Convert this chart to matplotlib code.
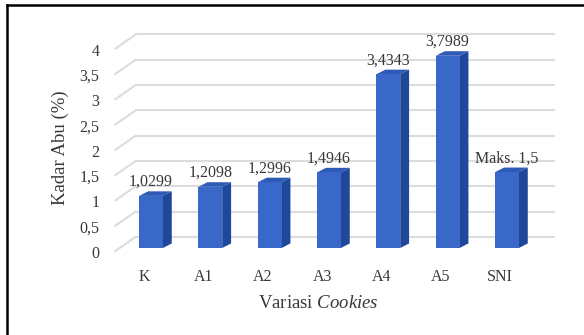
import matplotlib
matplotlib.use("Agg")
import matplotlib.pyplot as plt
from matplotlib.patches import Polygon, Rectangle
from matplotlib.lines import Line2D

# ===== DATA =====

categories = ["K", "A1", "A2", "A3", "A4", "A5", "SNI"]
kadar_abu = [1.0299, 1.2098, 1.2996, 1.4946, 3.4343, 3.7989, 1.5]
value_labels = ["1,0299", "1,2098", "1,2996", "1,4946", "3,4343", "3,7989", "Maks. 1,5"]
y_ticks = [0, 0.5, 1, 1.5, 2, 2.5, 3, 3.5, 4]
y_tick_labels = ["0", "0,5", "1", "1,5", "2", "2,5", "3", "3,5", "4"]

# ===== STYLE =====

FRONT = "#3a68c8"
SIDE = "#20489a"
TOP = "#2d5ab4"
GRID = "#dcdcdc"
TEXT = "#383838"

HALF_W = 0.2          # half bar width, category units
BAR_DX, BAR_DY = 0.15, 0.09     # bar depth
WALL_DX, WALL_DY = 0.34, -0.22  # back wall offset from the front plane
X_MIN, X_MAX = -0.6, 6.45

plt.rcParams["font.family"] = ["Liberation Serif", "DejaVu Serif"]
plt.rcParams["mathtext.fontset"] = "custom"
plt.rcParams["mathtext.rm"] = "Liberation Serif"
plt.rcParams["mathtext.it"] = "Liberation Serif:italic"

W, H = 584, 335
fig = plt.figure(figsize=(W / 100, H / 100), dpi=100)
fig.patch.set_facecolor("white")

# front plane of the columns
ax = fig.add_axes([115.4 / W, (H - 248) / H, (533.7 - 115.4) / W, 202.4 / H])
ax.set_xlim(X_MIN, X_MAX)
ax.set_ylim(0, 4)
ax.axis("off")

# back wall gridlines + side wall diagonals
for v in y_ticks:
    ax.plot([X_MIN + WALL_DX, X_MAX + WALL_DX], [v - WALL_DY, v - WALL_DY],
            color=GRID, lw=1.5, clip_on=False, zorder=1)
    ax.plot([X_MIN, X_MIN + WALL_DX], [v - 0.06, v - WALL_DY],
            color=GRID, lw=1.5, clip_on=False, zorder=1)

for lab, v in zip(y_tick_labels, y_ticks):
    ax.annotate(lab, (X_MIN, v), xytext=(-11.5, -4.3), textcoords="offset points",
                ha="right", va="center", fontsize=11.5, color=TEXT,
                annotation_clip=False)

# columns: side, top, front
for i, v in enumerate(kadar_abu):
    l, r = i - HALF_W, i + HALF_W
    side = Polygon([(r, 0), (r, v), (r + BAR_DX, v + BAR_DY), (r + BAR_DX, BAR_DY)],
                   closed=True, facecolor=SIDE, edgecolor="none", zorder=3, clip_on=False)
    top = Polygon([(l, v), (r, v), (r + BAR_DX, v + BAR_DY), (l + BAR_DX, v + BAR_DY)],
                  closed=True, facecolor=TOP, edgecolor="none", zorder=3, clip_on=False)
    front = Rectangle((l, 0), 2 * HALF_W, v, facecolor=FRONT, edgecolor="none",
                      zorder=4, clip_on=False)
    ax.add_patch(side)
    ax.add_patch(top)
    ax.add_patch(front)
    ax.annotate(value_labels[i], (i, v), xytext=(0, 10), textcoords="offset points",
                ha="center", va="center", fontsize=11.5, color=TEXT,
                annotation_clip=False, zorder=5)
    ax.annotate(categories[i], (i, 0), xytext=(-5, -21), textcoords="offset points",
                ha="center", va="center", fontsize=11.5, color=TEXT,
                annotation_clip=False)

fig.text(318 / W, 1 - 303 / H, "Variasi $\\it{Cookies}$", ha="center", va="center",
         fontsize=13.5, color=TEXT)
fig.text(60 / W, 1 - 148 / H, "Kadar Abu (%)", ha="center", va="center",
         rotation=90, fontsize=13.5, color=TEXT)

# outer frame (runs off the right and bottom edge)
fig.add_artist(Line2D([7 / W, 7 / W], [0, 1 - 5 / H], color="black", lw=1.8))
fig.add_artist(Line2D([7 / W, 1], [1 - 5 / H, 1 - 5 / H], color="black", lw=1.8))

fig.savefig("out.png", dpi=100)
